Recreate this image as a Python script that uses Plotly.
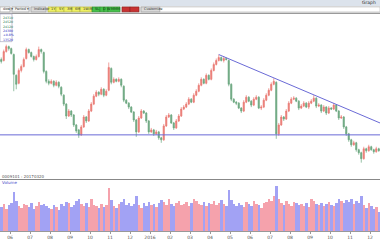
import plotly.graph_objects as go

# ---------------- data ----------------
OPEN = [140,139,148,153,151,145,124,116,129,133,141,150,147,143,140,143,150,147,128,118,
        116,118,114,117,112,104,95,83,88,84,74,69,64,72,82,78,88,95,103,107,
        105,110,104,109,131,117,120,118,120,113,99,96,92,87,79,67,81,88,86,78,
        67,69,65,67,61,59,73,82,84,76,71,78,83,90,92,95,100,97,104,108,
        114,120,116,124,120,129,135,139,142,139,141,139,115,100,97,96,91,88,97,102,
        98,94,100,102,91,92,99,104,109,115,117,65,74,82,80,88,96,100,101,98,
        91,93,96,92,96,98,101,93,94,88,92,86,91,90,94,88,81,82,72,65,
        59,54,56,49,46,40,50,48,52,49,47,50]
HIGH = [142,150,155,154,152,146,125,131,135,142,152,151,148,144,145,153,151,148,129,120,
        120,119,119,118,113,105,96,90,89,85,75,70,74,84,83,90,97,105,109,108,
        112,111,110,137,132,122,121,122,121,114,100,97,93,88,80,83,90,89,87,79,
        71,70,69,68,62,75,84,86,85,77,80,85,92,94,97,102,101,106,110,116,
        122,121,126,125,131,137,141,145,143,143,142,140,116,101,98,97,92,99,104,103,
        99,102,104,103,94,101,106,111,117,121,118,76,84,83,90,98,102,103,102,99,
        95,98,97,98,100,104,102,96,95,94,93,93,92,96,95,89,84,83,73,66,
        60,58,57,50,47,52,51,54,53,50,52,51]
LOW = [136,138,147,149,145,108,110,115,127,132,140,146,142,138,139,142,146,126,116,114,
       115,112,113,111,103,93,80,82,82,72,66,61,63,71,76,77,87,94,102,103,
       104,102,103,108,115,116,117,117,112,97,95,90,86,77,62,66,80,85,76,65,
       66,63,64,59,56,58,72,81,75,69,70,77,82,89,91,94,96,96,103,107,
       113,115,115,119,119,128,134,138,138,137,139,113,98,96,94,90,86,87,96,97,
       92,93,99,90,89,91,98,103,108,114,60,63,73,78,79,87,95,99,97,89,
       90,92,91,90,95,97,91,92,86,87,84,85,89,89,87,79,80,70,63,57,
       52,53,47,44,36,39,46,47,48,45,46,47]
CLOSE = [138,148,153,151,146,125,115,129,133,140,150,147,143,140,143,150,148,128,118,116,
         118,114,117,113,105,95,83,88,84,74,68,64,72,82,78,88,95,103,107,105,
         110,104,108,132,117,120,118,120,114,99,96,92,87,79,67,81,88,86,78,67,
         69,65,67,61,59,73,82,84,76,71,78,83,90,92,95,100,97,104,108,114,
         120,116,124,120,129,135,139,142,139,141,140,115,100,97,96,91,88,97,102,98,
         94,100,102,91,92,99,104,109,115,118,65,74,82,80,88,96,100,101,98,91,
         93,96,92,96,98,101,93,94,88,92,86,91,90,94,88,81,82,72,65,59,
         54,56,49,46,40,50,48,52,49,47,50,48]
VOLUME = [220,250,200,240,260,360,280,230,210,250,240,220,260,200,230,270,240,250,230,210,
          200,240,220,190,250,230,270,260,220,240,280,300,250,230,260,220,300,240,230,210,
          250,220,240,400,290,230,210,250,270,300,240,260,230,250,330,240,210,260,230,270,
          240,250,220,260,290,270,240,300,250,230,260,280,240,250,270,230,260,300,280,250,
          240,270,230,260,250,280,240,260,290,250,230,380,290,250,230,260,240,220,270,250,
          230,280,250,240,210,260,270,300,280,330,420,300,260,240,280,250,230,270,260,240,
          250,230,260,220,300,280,250,240,260,230,250,270,240,230,260,300,280,260,290,270,
          300,250,280,260,330,240,210,260,230,200,220,180]
SUPPORT_LEVEL = 64
TREND_X = [87, 151.5]
TREND_Y = [145, 76]
TICK_POS = [3.5, 11.5, 19.5, 27.5, 35.5, 43.5, 51.5, 59.5, 67.5, 75.5, 83.5, 91.5,
            99.5, 107.5, 115.5, 123.5, 131.5, 139.5, 147.5]
TICK_TEXT = ["06", "07", "08", "09", "10", "11", "12", "2016", "02", "03", "04", "05",
             "06", "07", "08", "09", "10", "11", "12"]
INFO_ROWS = ["24310", "24520", "24120", "24380", "+0.8%", "13520"]

N = len(CLOSE)
IDX = list(range(N))

UP = "#ea7a72"
DN = "#6aa67e"
VUP = "#f5a2ac"
VDN = "#a2a2f4"

W, H = 380, 240
def px(x):
    return x / W
def py(y):
    return 1 - y / H

fig = go.Figure()
fig.add_trace(go.Candlestick(
    x=IDX, open=OPEN, high=HIGH, low=LOW, close=CLOSE,
    xaxis="x", yaxis="y", showlegend=False,
    increasing=dict(line=dict(color=UP, width=0.7), fillcolor=UP),
    decreasing=dict(line=dict(color=DN, width=0.7), fillcolor=DN),
    whiskerwidth=0))
fig.add_trace(go.Scatter(x=[-0.5, N - 0.5], y=[SUPPORT_LEVEL, SUPPORT_LEVEL], mode="lines",
                         line=dict(color="#6a6ad6", width=1), xaxis="x", yaxis="y", showlegend=False))
fig.add_trace(go.Scatter(x=TREND_X, y=TREND_Y, mode="lines",
                         line=dict(color="#6a6ad6", width=1), xaxis="x", yaxis="y", showlegend=False))
vcol = [VUP if c >= o else VDN for o, c in zip(OPEN, CLOSE)]
fig.add_trace(go.Bar(x=IDX, y=VOLUME, marker=dict(color=vcol, line=dict(width=0)),
                     width=1.0, xaxis="x2", yaxis="y2", showlegend=False))

shapes = []
annots = []
def rect(x0, y0, x1, y1, fill, line=None, lw=0.6):
    shapes.append(dict(type="rect", xref="paper", yref="paper", x0=px(x0), x1=px(x1),
                       y0=py(y1), y1=py(y0), fillcolor=fill,
                       line=dict(color=line or fill, width=lw if line else 0), layer="above"))
def text(x, y, s, size=4, color="#333", anchor="left"):
    annots.append(dict(xref="paper", yref="paper", x=px(x), y=py(y), text=s, showarrow=False,
                       xanchor=anchor, yanchor="middle", font=dict(size=size, color=color,
                       family="DejaVu Sans")))

# title bar + toolbar
rect(0, 0, 380, 6, "#dce3ec")
text(378, 3, "Graph", 4.5, "#333", "right")
rect(0, 6, 380, 13, "#e6e6e6")
rect(0, 7, 10, 12, "#ffffff", "#999")
text(0.5, 9.5, "dow ▾", 3.5)
rect(12, 7, 29, 12, "#f4f4f4", "#999")
text(13, 9.5, "Period ▾", 3.5)
rect(31, 7, 46, 12, "#dadada", "#999")
text(32, 9.5, "Indicator", 3.5)
for x0, x1, s in [(48, 56, "1Y"), (56, 64, "5Y"), (64, 72, "3M"), (72, 80, "6M"), (80, 92, "1W/M")]:
    rect(x0, 7, x1, 12, "#eef062", "#b0b040")
    text(x0 + 1, 9.5, s, 3.5)
for x0, x1, s in [(92, 100, "5L"), (100, 104, "D"), (104, 108, "W"), (108, 120, "MMM")]:
    rect(x0, 7, x1, 12, "#44c04a", "#2a8a2e")
    text(x0 + 1, 9.5, s, 3.5, "#113311")
for x0, x1 in [(122, 130), (130, 139)]:
    rect(x0, 7, x1, 12, "#c83232", "#882222")
rect(141, 7, 160, 12, "#dadada", "#999")
text(142, 9.5, "Customize", 3.5)
rect(160, 7, 380, 12, "#ffffff", "#bbb")
shapes.append(dict(type="line", xref="paper", yref="paper", x0=0, x1=1, y0=py(13.5), y1=py(13.5),
                   line=dict(color="#8c8c8c", width=1)))

# info box
rect(0, 14, 12, 42, "#ffffff", "#9a9ab8")
for k, s in enumerate(INFO_ROWS):
    text(0.5, 18 + k * 4.4, s, 3.2, "#3030c0" if k > 2 else "#2a7a4a")

# separator between price and volume
shapes.append(dict(type="line", xref="paper", yref="paper", x0=0, x1=1, y0=py(181), y1=py(181),
                   line=dict(color="#888888", width=1.2)))
text(0, 177.5, "0009101 : 20170320", 4, "#555")
text(0, 184.5, "Volume", 4, "#4848c8")

fig.update_layout(
    width=W, height=H, margin=dict(l=0, r=0, t=0, b=0),
    paper_bgcolor="white", plot_bgcolor="white", showlegend=False,
    shapes=shapes, annotations=annots, bargap=0,
    xaxis=dict(domain=[0, 1], range=[-0.5, N - 0.5], visible=False,
               rangeslider=dict(visible=False), anchor="y"),
    yaxis=dict(domain=[0.25, 1 - 14 / H], range=[20, 186], visible=False),
    xaxis2=dict(domain=[0, 1], range=[-0.5, N - 0.5], anchor="y2",
                tickvals=TICK_POS, ticktext=TICK_TEXT, ticks="outside", ticklen=2,
                tickcolor="#999", tickfont=dict(size=4.5, color="#555", family="DejaVu Sans"),
                showline=True, linecolor="#999", linewidth=1, showgrid=False, zeroline=False),
    yaxis2=dict(domain=[1 - 233 / H, 1 - 186 / H], range=[0, 440], visible=False),
)
fig.write_html("out.html")
